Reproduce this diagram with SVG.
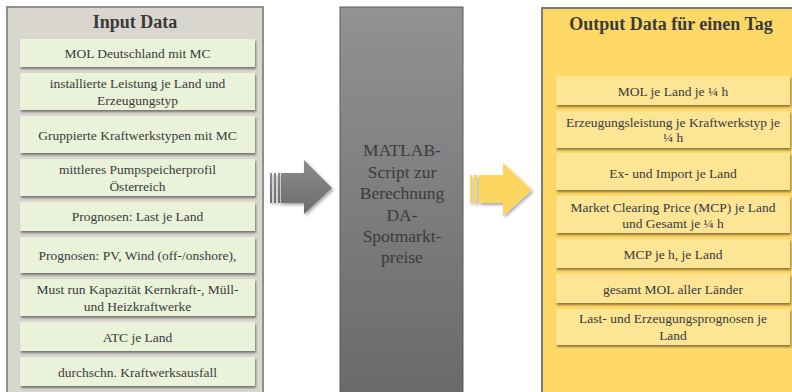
<svg xmlns="http://www.w3.org/2000/svg" width="792" height="392" viewBox="0 0 792 392">
<defs>
<style>
.t{font-family:"Liberation Serif","Times New Roman",serif;font-size:13.5px;fill:#3a3a3a;text-anchor:middle}
.h{font-family:"Liberation Serif","Times New Roman",serif;font-size:18px;font-weight:bold;fill:#3a3a3a;text-anchor:middle}
.m{font-family:"Liberation Serif","Times New Roman",serif;font-size:17.5px;fill:#3c3c3c;text-anchor:middle}
.gb{fill:#ebf2da;filter:url(#sh)}
.yb{fill:#fde596;filter:url(#sh)}
</style>
<filter id="sh" x="-5%" y="-10%" width="110%" height="130%">
<feDropShadow dx="1" dy="2" stdDeviation="1.2" flood-color="#000" flood-opacity="0.45"/>
</filter>
<filter id="ash" x="-20%" y="-20%" width="140%" height="140%">
<feDropShadow dx="1.5" dy="2" stdDeviation="1.5" flood-color="#000" flood-opacity="0.35"/>
</filter>
<linearGradient id="mg" x1="0" y1="0" x2="0" y2="1">
<stop offset="0" stop-color="#939193"/>
<stop offset="1" stop-color="#6a686a"/>
</linearGradient>
<linearGradient id="ga" x1="0" y1="0" x2="0" y2="1">
<stop offset="0" stop-color="#8c8a8c"/>
<stop offset="1" stop-color="#6e6c6e"/>
</linearGradient>
</defs>

<g id="input-data">
<rect x="7" y="7" width="256" height="390" fill="#d9d5cf" stroke="#8e8e8e" stroke-width="2"/>
<text class="h" x="135" y="28">Input Data</text>
</g>
<g id="in1"><rect class="gb" x="20" y="39" width="235" height="28"/><text class="t" x="137.5" y="58">MOL Deutschland mit MC</text></g>
<g id="in2"><rect class="gb" x="20" y="73" width="235" height="37"/><text class="t" x="137.5" y="88">installierte Leistung je Land und</text><text class="t" x="137.5" y="105">Erzeugungstyp</text></g>
<g id="in3"><rect class="gb" x="20" y="116" width="235" height="37"/><text class="t" x="137.5" y="140">Gruppierte Kraftwerkstypen mit MC</text></g>
<g id="in4"><rect class="gb" x="20" y="159" width="235" height="37"/><text class="t" x="137.5" y="174">mittleres Pumpspeicherprofil</text><text class="t" x="137.5" y="191">Österreich</text></g>
<g id="in5"><rect class="gb" x="20" y="202" width="235" height="29"/><text class="t" x="137.5" y="221">Prognosen: Last je Land</text></g>
<g id="in6"><rect class="gb" x="20" y="237" width="235" height="36"/><text class="t" x="137.5" y="260">Prognosen: PV, Wind (off-/onshore),</text></g>
<g id="in7"><rect class="gb" x="20" y="279" width="235" height="37"/><text class="t" x="137.5" y="294">Must run Kapazität Kernkraft-, Müll-</text><text class="t" x="137.5" y="311">und Heizkraftwerke</text></g>
<g id="in8"><rect class="gb" x="20" y="322" width="235" height="29"/><text class="t" x="137.5" y="342">ATC je Land</text></g>
<g id="in9"><rect class="gb" x="20" y="357" width="235" height="29"/><text class="t" x="137.5" y="377">durchschn. Kraftwerksausfall</text></g>

<g id="matlab">
<rect x="340" y="7" width="123" height="392" fill="url(#mg)" stroke="#5c5c5c" stroke-width="1"/>
<text class="m" x="402" y="156">MATLAB-</text>
<text class="m" x="402" y="178">Script zur</text>
<text class="m" x="402" y="199">Berechnung</text>
<text class="m" x="402" y="221">DA-</text>
<text class="m" x="402" y="242">Spotmarkt-</text>
<text class="m" x="402" y="263">preise</text>
</g>

<g id="output-data">
<rect x="542" y="8" width="260" height="392" fill="#fdd866" stroke="#7a7a7a" stroke-width="2"/>
<text class="h" x="671" y="30">Output Data für einen Tag</text>
</g>
<g id="out1"><rect class="yb" x="556" y="76" width="234" height="29"/><text class="t" x="673" y="96">MOL je Land je ¼ h</text></g>
<g id="out2"><rect class="yb" x="556" y="111" width="234" height="37"/><text class="t" x="673" y="127">Erzeugungsleistung je Kraftwerkstyp je</text><text class="t" x="673" y="142">¼ h</text></g>
<g id="out3"><rect class="yb" x="556" y="153" width="234" height="37"/><text class="t" x="673" y="178">Ex- und Import je Land</text></g>
<g id="out4"><rect class="yb" x="556" y="196" width="234" height="37"/><text class="t" x="673" y="212">Market Clearing Price (MCP) je Land</text><text class="t" x="673" y="228">und Gesamt je ¼ h</text></g>
<g id="out5"><rect class="yb" x="556" y="239" width="234" height="29"/><text class="t" x="673" y="259">MCP je h, je Land</text></g>
<g id="out6"><rect class="yb" x="556" y="274" width="234" height="29"/><text class="t" x="673" y="294">gesamt MOL aller Länder</text></g>
<g id="out7"><rect class="yb" x="556" y="309" width="234" height="36"/><text class="t" x="673" y="323">Last- und Erzeugungsprognosen je</text><text class="t" x="673" y="340">Land</text></g>

<g id="connectors">
<g filter="url(#ash)" fill="url(#ga)">
<rect x="270" y="173" width="2" height="30"/>
<rect x="274" y="173" width="2" height="30"/>
<rect x="278" y="173" width="2" height="30"/>
<path d="M281 173 H304 V160 L332 188 L304 214 V203 H281 Z"/>
</g>
<g filter="url(#ash)" fill="#fdd662">
<rect x="470" y="175" width="2" height="28"/>
<rect x="474" y="175" width="3" height="28"/>
<path d="M479 175 H503 V163 L532 190 L503 216 V203 H479 Z"/>
</g>
</g>
</svg>
